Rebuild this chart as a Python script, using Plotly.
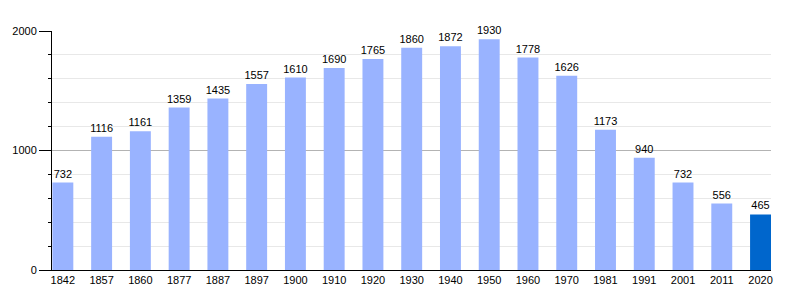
import plotly.graph_objects as go

years = ["1842", "1857", "1860", "1877", "1887", "1897", "1900", "1910", "1920", "1930",
         "1940", "1950", "1960", "1970", "1981", "1991", "2001", "2011", "2020"]
population = [732, 1116, 1161, 1359, 1435, 1557, 1610, 1690, 1765, 1860,
              1872, 1930, 1778, 1626, 1173, 940, 732, 556, 465]

light = "#99b3ff"
dark = "#0066cc"
colors = [light] * (len(years) - 1) + [dark]

fig = go.Figure()
fig.add_trace(go.Bar(
    x=list(range(len(years))),
    y=population,
    marker=dict(color=colors, line=dict(width=0)),
    width=0.54,
    text=[str(v) for v in population],
    textposition="outside",
    constraintext="none",
    textfont=dict(size=11, color="#000000", family="Liberation Sans, Arial, sans-serif"),
    cliponaxis=False,
    hoverinfo="x+y",
))

fig.update_layout(
    width=800, height=300,
    margin=dict(l=50, r=29, t=31, b=30),
    paper_bgcolor="white",
    plot_bgcolor="white",
    showlegend=False,
    font=dict(family="Liberation Sans, Arial, sans-serif", size=11, color="#000000"),
    xaxis=dict(
        range=[-0.28, 18.27],
        tickmode="array",
        tickvals=list(range(len(years))),
        ticktext=years,
        showgrid=False,
        showline=True,
        linecolor="#000000",
        linewidth=1,
        ticks="",
        zeroline=False,
        fixedrange=True,
    ),
    yaxis=dict(
        range=[0, 2000],
        tickvals=[0, 1000, 2000],
        ticks="outside",
        ticklen=12,
        tickcolor="#000000",
        showline=True,
        linecolor="#000000",
        linewidth=1,
        showgrid=True,
        gridcolor="#b3b3b3",
        zeroline=False,
        minor=dict(dtick=200, ticklen=3, ticks="outside", tickcolor="#000000",
                   showgrid=True, gridcolor="#e8e8e8"),
        fixedrange=True,
    ),
)

fig.write_html("out.html")
